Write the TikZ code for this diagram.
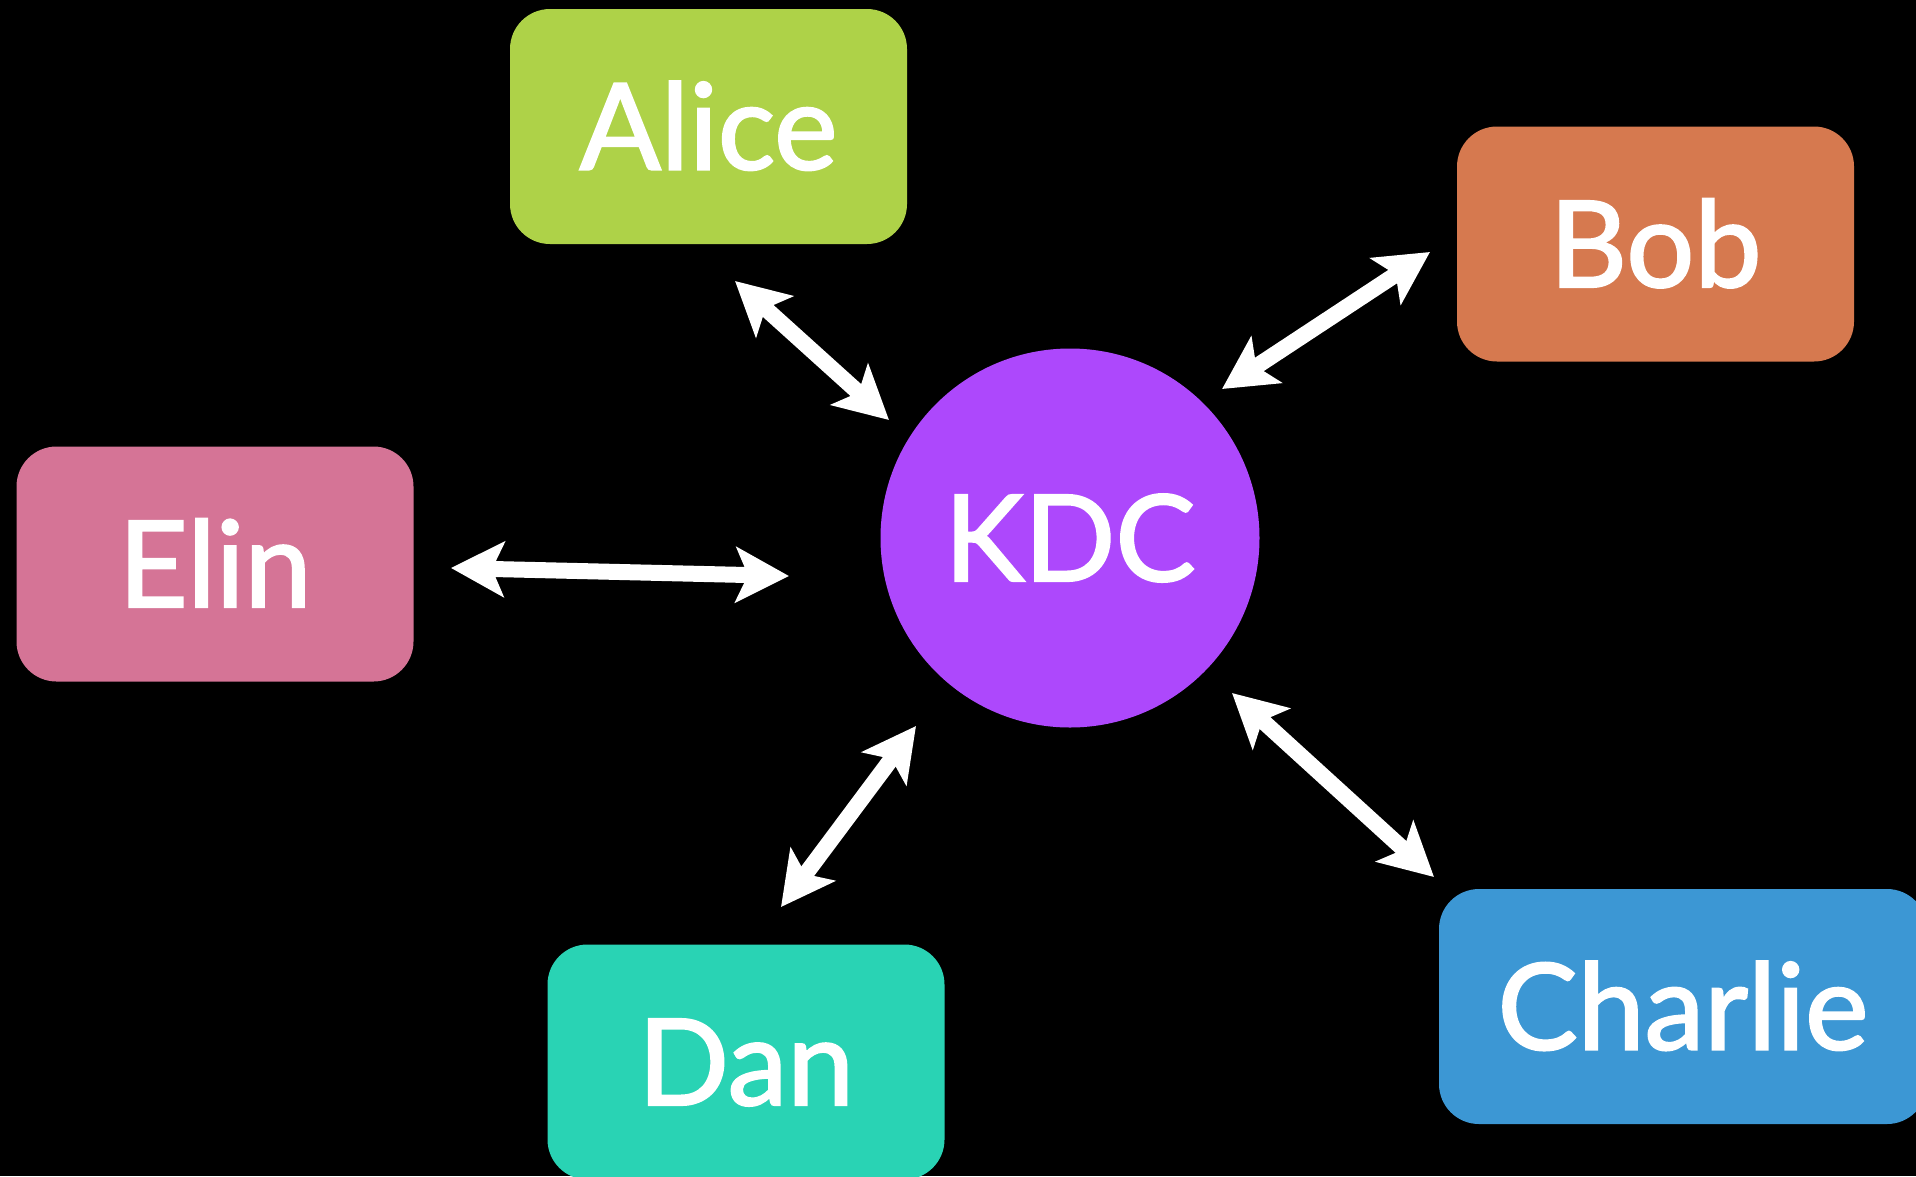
\documentclass[tikz,border=0pt]{standalone}
\usepackage{fontspec}
\setmainfont[FakeBold=1.8]{Lato}
\usetikzlibrary{arrows.meta}
\definecolor{alicecol}{RGB}{174,210,72}
\definecolor{bobcol}{RGB}{214,121,79}
\definecolor{elincol}{RGB}{213,116,150}
\definecolor{dancol}{RGB}{41,211,180}
\definecolor{charliecol}{RGB}{60,151,212}
\definecolor{kdccol}{RGB}{173,72,252}
\begin{document}
\begin{tikzpicture}[x=1pt,y=-1pt,
  lbl/.style={text=white, font=\fontsize{120}{144}\selectfont, text height=86pt, text depth=0pt},
  box/.style={lbl, rounded corners=40pt, minimum width=397pt, minimum height=235pt, inner sep=0pt},
  link/.style={white, line width=16pt,
    {Stealth[length=53pt,width=55pt,inset=12pt]}-{Stealth[length=53pt,width=55pt,inset=12pt]}}
]
\fill[black] (0,0) rectangle (1916,1176);
\useasboundingbox (0,0) rectangle (1916,1176);

\node[box, fill=alicecol] (alice) at (708.5,126.5) {Alice};
\node[box, fill=bobcol] (bob) at (1655.5,244) {Bob};
\node[box, fill=elincol] (elin) at (215,564) {Elin};
\node[box, fill=dancol] (dan) at (746,1062) {Dan};
\node[box, fill=charliecol, minimum width=488pt] (charlie) at (1683,1006.5) {Charlie};
\node[lbl, circle, fill=kdccol, minimum size=379pt, inner sep=0pt] (kdc) at (1070,538) {KDC};

\coordinate (a1) at (735,281);   \coordinate (a2) at (889,420);
\coordinate (b1) at (1430,252);  \coordinate (b2) at (1222,389);
\coordinate (e1) at (451,568);   \coordinate (e2) at (789,576);
\coordinate (d1) at (916,726);   \coordinate (d2) at (781,907);
\coordinate (c1) at (1232,693);  \coordinate (c2) at (1434,877);

\draw[link] (a1) -- (a2);
\draw[link] (b1) -- (b2);
\draw[link] (e1) -- (e2);
\draw[link] (d1) -- (d2);
\draw[link] (c1) -- (c2);
\end{tikzpicture}
\end{document}
